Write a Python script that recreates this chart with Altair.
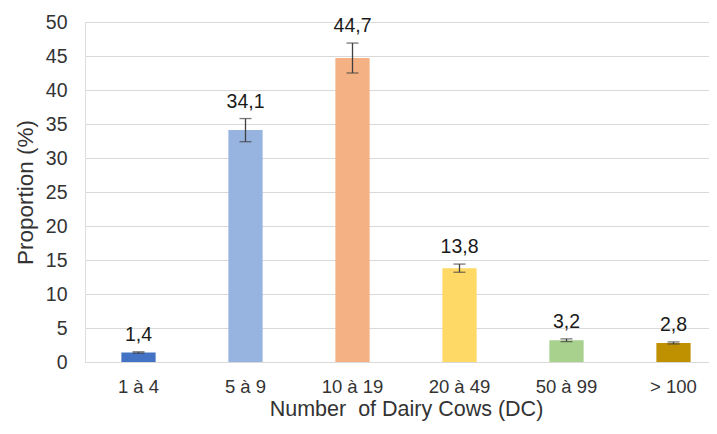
import altair as alt
import pandas as pd

categories = ["1 à 4", "5 à 9", "10 à 19", "20 à 49", "50 à 99", "> 100"]
values = [1.4, 34.1, 44.7, 13.8, 3.2, 2.8]
errors = [0.1, 1.7, 2.2, 0.6, 0.2, 0.15]
colors = ["#4472C4", "#97B3E0", "#F4B183", "#FFD966", "#A9D18E", "#BF9000"]
y_ticks = [0, 5, 10, 15, 20, 25, 30, 35, 40, 45, 50]

df = pd.DataFrame({
    "cat": categories,
    "val": values,
    "lo": [v - e for v, e in zip(values, errors)],
    "hi": [v + e for v, e in zip(values, errors)],
    "label": [f"{v:.1f}".replace(".", ",") for v in values],
})

FONT = "Liberation Sans"
TXT = "#333333"

x_axis = alt.Axis(
    title="Number\u00a0 of Dairy Cows (DC)",
    labelAngle=0,
    labelFontSize=18.5,
    labelPadding=15,
    labelOverlap=False,
    titleFontSize=21.5,
    titlePadding=3,
    ticks=False,
    domain=True,
    domainColor="#d9d9d9",
    labelColor=TXT,
    titleColor=TXT,
    labelFont=FONT,
    titleFont=FONT,
    titleFontWeight="normal",
)
x_scale = alt.Scale(range=[0, 642], paddingInner=0.68, paddingOuter=0.34)

y_axis = alt.Axis(
    title="Proportion (%)",
    values=y_ticks,
    tickCount=11,
    labelFontSize=19.5,
    labelPadding=18,
    labelOverlap=False,
    titleFontSize=22.5,
    titlePadding=8,
    ticks=False,
    domain=False,
    grid=True,
    gridColor="#d9d9d9",
    gridWidth=1,
    labelColor=TXT,
    titleColor=TXT,
    labelFont=FONT,
    titleFont=FONT,
    titleFontWeight="normal",
)
y_scale = alt.Scale(domain=[0, 50], nice=False)


def X():
    return alt.X("cat:N", sort=categories, scale=x_scale, axis=x_axis)


def Y(field):
    return alt.Y(f"{field}:Q", scale=y_scale, axis=y_axis)


base = alt.Chart(df)

bars = base.mark_bar().encode(
    x=X(),
    y=Y("val"),
    color=alt.Color("cat:N", sort=categories,
                    scale=alt.Scale(domain=categories, range=colors), legend=None),
)

rule = base.mark_rule(color="#404040", strokeWidth=1.3).encode(
    x=X(),
    y=Y("lo"),
    y2="hi:Q",
)
cap_lo = base.mark_tick(color="#404040", thickness=1.3, size=12).encode(
    x=X(),
    y=Y("lo"),
)
cap_hi = base.mark_tick(color="#404040", thickness=1.3, size=12).encode(
    x=X(),
    y=Y("hi"),
)

labels = base.mark_text(
    baseline="alphabetic", dy=-11, fontSize=19.5, font=FONT, color="#1a1a1a"
).encode(
    x=X(),
    y=Y("hi"),
    text="label:N",
)

chart = alt.layer(bars, rule, cap_lo, cap_hi, labels).properties(
    width=624,
    height=340,
    autosize=alt.AutoSizeParams(type="none"),
    padding={"left": 77, "top": 14, "right": 0, "bottom": 59},
).configure_view(stroke=None).configure(background="white")

chart.save("out.html", embed_options={"renderer": "svg", "actions": False})
